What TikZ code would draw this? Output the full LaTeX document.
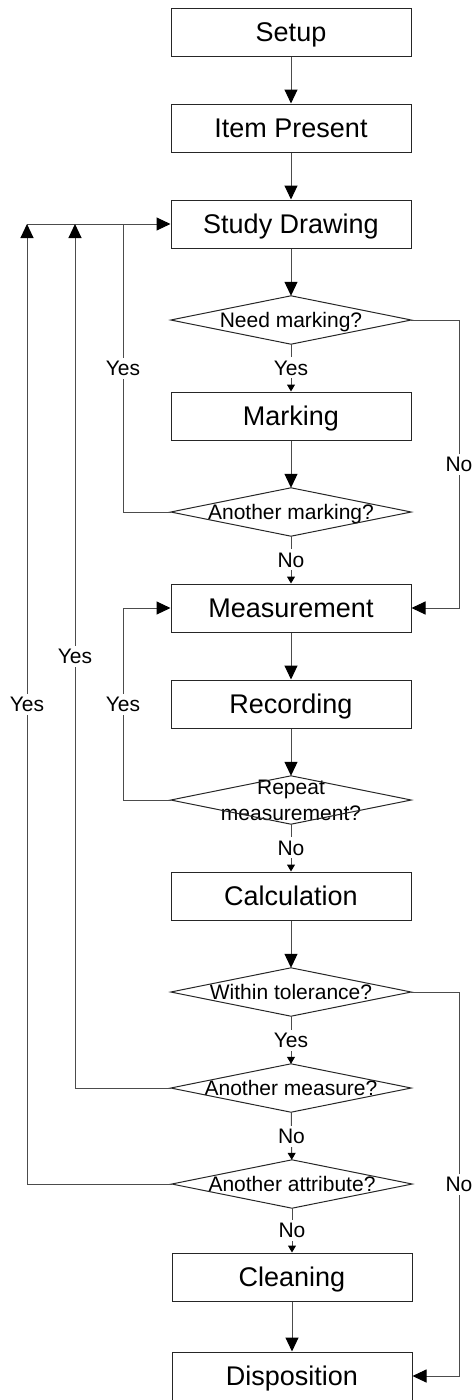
\documentclass[tikz,border=0pt]{standalone}
\usepackage{fontspec}
\setmainfont{Liberation Sans}
\usetikzlibrary{arrows.meta}
\begin{document}
\begin{tikzpicture}[x=1pt,y=-1pt,
  box/.style={draw=black!85, line width=1pt, minimum width=240pt, minimum height=48pt, inner sep=0pt,
    text height=19.3pt, text depth=0pt, font=\fontsize{27}{31}\selectfont},
  dia/.style={minimum width=240pt, minimum height=48pt, inner sep=0pt, align=center,
    text height=15pt, text depth=0pt, font=\fontsize{21}{26}\selectfont},
  dline/.style={draw=black!85, line width=1pt},
  conn/.style={draw=black!70, line width=1pt},
  arr/.style={conn, -{Triangle[length=14pt,width=13pt,color=black,fill=black]}},
  sarr/.style={conn, -{Triangle[length=7pt,width=8pt,color=black,fill=black]}},
  lbl/.style={fill=white, inner sep=3pt, text height=15pt, text depth=0pt, font=\fontsize{21}{26}\selectfont}
]
\useasboundingbox (0,0) rectangle (475,1400);

\node[box] (setup) at (291,32) {Setup};
\node[box] (item) at (291,128) {Item Present};
\node[box] (study) at (291,224) {Study Drawing};
\node[dia] (need) at (291,320) {Need marking?};
\node[box] (mark) at (291,416) {Marking};
\node[dia] (anmark) at (291,512) {Another marking?};
\node[box] (meas) at (291,608) {Measurement};
\node[box] (rec) at (291,704) {Recording};
\node[dia, text height=41pt] (rep) at (291,800) {Repeat\\measurement?};
\node[box] (calc) at (291,896) {Calculation};
\node[dia] (tol) at (291,992) {Within tolerance?};
\node[dia] (anmeas) at (291,1088) {Another measure?};
\node[dia] (attr) at (292,1184) {Another attribute?};
\node[box] (clean) at (292,1277) {Cleaning};
\node[box] (disp) at (292,1376) {Disposition};

\foreach \n in {need,anmark,rep,tol,anmeas,attr}
  \draw[dline] (\n.west) -- (\n.north) -- (\n.east) -- (\n.south) -- cycle;

\coordinate (j1) at (27,224);
\coordinate (j2) at (75,224);
\coordinate (j3) at (123,224);
\coordinate (k) at (459,224);

% main flow
\draw[arr] (setup) -- (item);
\draw[arr] (item) -- (study);
\draw[arr] (study) -- (need);
\draw[sarr] (need) -- node[lbl]{Yes} (mark);
\draw[arr] (mark) -- (anmark);
\draw[sarr] (anmark) -- node[lbl]{No} (meas);
\draw[arr] (meas) -- (rec);
\draw[arr] (rec) -- (rep);
\draw[sarr] (rep) -- node[lbl]{No} (calc);
\draw[arr] (calc) -- (tol);
\draw[sarr] (tol) -- node[lbl]{Yes} (anmeas);
\draw[sarr] (anmeas) -- node[lbl]{No} (attr);
\draw[sarr] (attr) -- node[lbl]{No} (clean);
\draw[arr] (clean) -- (disp);

% left loops
\draw[arr] (j1) -- (study.west);
\draw[arr] (attr.west) -- (attr.west -| j1) -- node[lbl]{Yes} (j1);
\draw[arr] (anmeas.west) -- (anmeas.west -| j2) -- node[lbl]{Yes} (j2);
\draw[conn] (anmark.west) -- (anmark.west -| j3) -- node[lbl]{Yes} (j3);
\draw[arr] (rep.west) -- (rep.west -| j3) -- node[lbl]{Yes} (meas.west -| j3) -- (meas.west);

% right loops
\draw[arr] (need.east) -- (need.east -| k) -- node[lbl]{No} (meas.east -| k) -- (meas.east);
\draw[arr] (tol.east) -- (tol.east -| k) -- node[lbl]{No} (disp.east -| k) -- (disp.east);
\end{tikzpicture}
\end{document}
